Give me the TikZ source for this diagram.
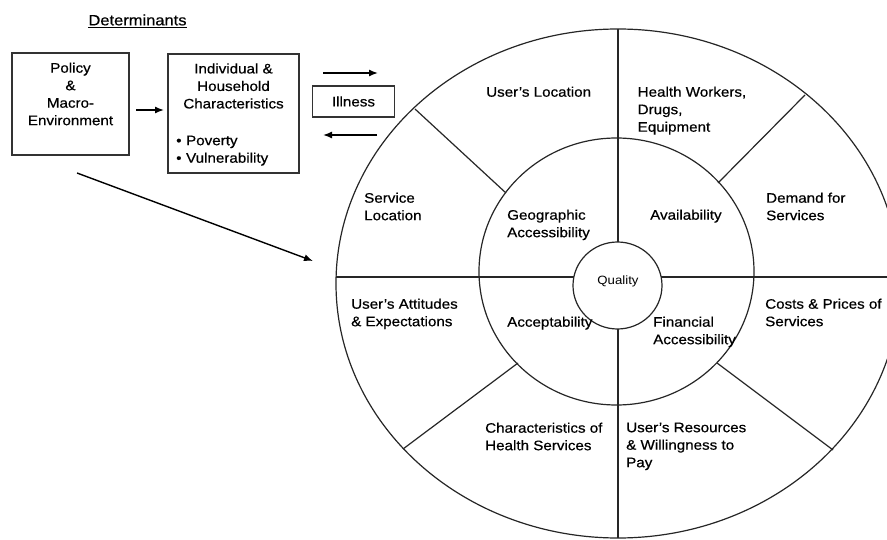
\documentclass[tikz,border=0pt]{standalone}
\usepackage{fontspec}
\setmainfont[FakeStretch=1.1]{Liberation Sans}
\newfontfamily\lblfont[FakeStretch=1.1,FakeBold=0.5]{Liberation Sans}
\usetikzlibrary{arrows.meta}
\begin{document}
\begin{tikzpicture}[x=1pt,y=-1pt,
  lbl/.style={inner sep=0pt,anchor=north west,align=left,font=\lblfont\fontsize{13.8}{17.5}\selectfont},
  ctr/.style={inner sep=0pt,align=center,font=\lblfont\fontsize{13.8}{17.5}\selectfont},
  boxr/.style={draw=black!80,line width=1.2pt,inner sep=0pt},
  wheel/.style={draw=black!85,line width=1.2pt},
  arr/.style={line width=1.4pt,-{Latex[length=9pt,width=7pt]}}]
\clip (0,0) rectangle (887,540);
\fill[white] (0,0) rectangle (887,540);
% title
\node[inner sep=0pt,font=\lblfont\fontsize{15}{18}\selectfont] (title) at (137.5,21) {\underline{Determinants}};
% boxes
\node[boxr,minimum width=117pt,minimum height=102pt] (policy) at (70.5,104) {};
\node[ctr] (policyt) at (70.5,94) {Policy\\\&\\Macro-\\Environment};
\node[boxr,minimum width=131pt,minimum height=119pt] (ind) at (233.5,113.5) {};
\node[ctr] (indt) at (233.5,86) {Individual \&\\Household\\Characteristics};
\node[lbl] (bul) at (176,135.5) {•\,\,Poverty\\•\,\,Vulnerability};
\node[boxr,minimum width=82pt,minimum height=31pt,font=\lblfont\fontsize{13.8}{17.5}\selectfont] (ill) at (353.5,101.5) {Illness};
% arrow anchors
\coordinate (a1) at (136,110);
\coordinate (a2) at (164,110);
\coordinate (b1) at (323,73);
\coordinate (b2) at (378,73);
\coordinate (c1) at (377,135);
\coordinate (c2) at (323,135);
\coordinate (d1) at (77,173);
\coordinate (d2) at (313,261);
\draw[arr] (a1) -- (a2);
\draw[arr] (b1) -- (b2);
\draw[arr] (c1) -- (c2);
\draw[arr] (d1) -- (d2);
% wheel
\draw[wheel] (618,283.5) ellipse [x radius=282, y radius=254.5];
\draw[wheel] (616.5,271.5) ellipse [x radius=137.5, y radius=133.5];
\draw[wheel] (617.5,285.5) ellipse [x radius=44.5, y radius=43.5];
\draw[wheel] (618,29) -- (618,242);
\draw[wheel] (618,329) -- (618,538);
\draw[wheel] (336,277) -- (573.9,277);
\draw[wheel] (661.1,277) -- (900,277);
\draw[wheel] (415,109) -- (506,193);
\draw[wheel] (805,95) -- (718,183);
\draw[wheel] (518,363) -- (403,449);
\draw[wheel] (717,363) -- (833,450);
% wheel labels
\node[lbl] (t1) at (486,86.5) {User’s Location};
\node[lbl] (t2) at (637.5,86.5) {Health Workers,\\Drugs,\\Equipment};
\node[lbl] (t3) at (364,192.5) {Service\\Location};
\node[lbl] (t4) at (507,209.5) {Geographic\\Accessibility};
\node[lbl] (t5) at (650,209.5) {Availability};
\node[lbl] (t6) at (766,192.5) {Demand for\\Services};
\node[inner sep=0pt,font=\fontsize{12}{14}\selectfont] (q) at (618,281) {Quality};
\node[lbl] (t7) at (351,298.5) {User’s Attitudes\\\& Expectations};
\node[lbl] (t8) at (507,316.5) {Acceptability};
\node[lbl] (t9) at (653,316.5) {Financial\\Accessibility};
\node[lbl] (t10) at (765,298.5) {Costs \& Prices of\\Services};
\node[lbl] (t11) at (485,422.5) {Characteristics of\\Health Services};
\node[lbl] (t12) at (626,422.5) {User’s Resources\\\& Willingness to\\Pay};
\end{tikzpicture}
\end{document}
